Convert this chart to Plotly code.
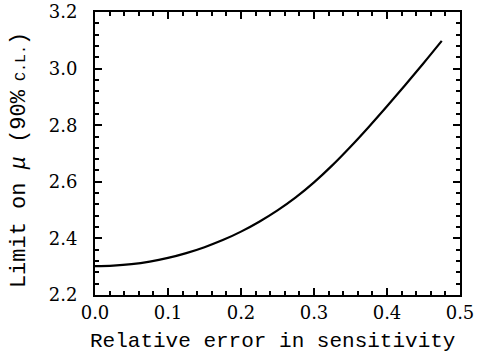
import plotly.graph_objects as go

rel_error = [0.0, 0.025, 0.05, 0.075, 0.1, 0.125, 0.15, 0.175, 0.2, 0.225,
             0.25, 0.275, 0.3, 0.325, 0.35, 0.375, 0.4, 0.425, 0.45, 0.475]
limit_mu = [2.302, 2.304, 2.309, 2.318, 2.331, 2.348, 2.369, 2.394, 2.424, 2.459,
            2.499, 2.545, 2.598, 2.658, 2.724, 2.794, 2.867, 2.942, 3.019, 3.098]

x_ticks = [0.0, 0.1, 0.2, 0.3, 0.4, 0.5]
y_ticks = [2.2, 2.4, 2.6, 2.8, 3.0, 3.2]

tick_font = dict(family="DejaVu Serif", size=18, color="black")

fig = go.Figure()
fig.add_trace(go.Scatter(x=rel_error, y=limit_mu, mode="lines",
                         line=dict(color="black", width=2.2, shape="spline", smoothing=1),
                         showlegend=False))

axis_common = dict(showline=True, linecolor="black", linewidth=2, mirror="ticks",
                   ticks="inside", tickcolor="black", tickwidth=1.5, ticklen=7,
                   showgrid=False, zeroline=False, tickfont=tick_font, automargin=False)

fig.update_xaxes(range=[0, 0.5], tickvals=x_ticks, ticktext=[f"{v:.1f}" for v in x_ticks],
                 minor=dict(dtick=0.02, ticks="inside", ticklen=4, tickcolor="black", tickwidth=1.5),
                 ticklabelstandoff=0, **axis_common)
fig.update_yaxes(range=[2.2, 3.2], tickvals=y_ticks, ticktext=[f"{v:.1f}" for v in y_ticks],
                 minor=dict(dtick=0.04, ticks="inside", ticklen=4, tickcolor="black", tickwidth=1.5),
                 ticklabelstandoff=12, **axis_common)

fig.add_annotation(text="Relative error in sensitivity",
                   xref="paper", yref="paper", x=0.485, y=-0.163, xanchor="center",
                   yanchor="middle", showarrow=False,
                   font=dict(family="Liberation Mono", size=21, color="black"))
fig.add_annotation(text="Limit on <i>μ</i> (90%<span style='font-size:15px'> C.L.</span>)",
                   xref="paper", yref="paper", x=-0.208, y=0.477, xanchor="center",
                   yanchor="middle", textangle=-90, showarrow=False,
                   font=dict(family="Liberation Mono", size=22, color="black"))

fig.update_layout(width=477, height=356, margin=dict(l=95, r=17, t=12, b=61),
                  plot_bgcolor="white", paper_bgcolor="white")
fig.write_html("out.html")
